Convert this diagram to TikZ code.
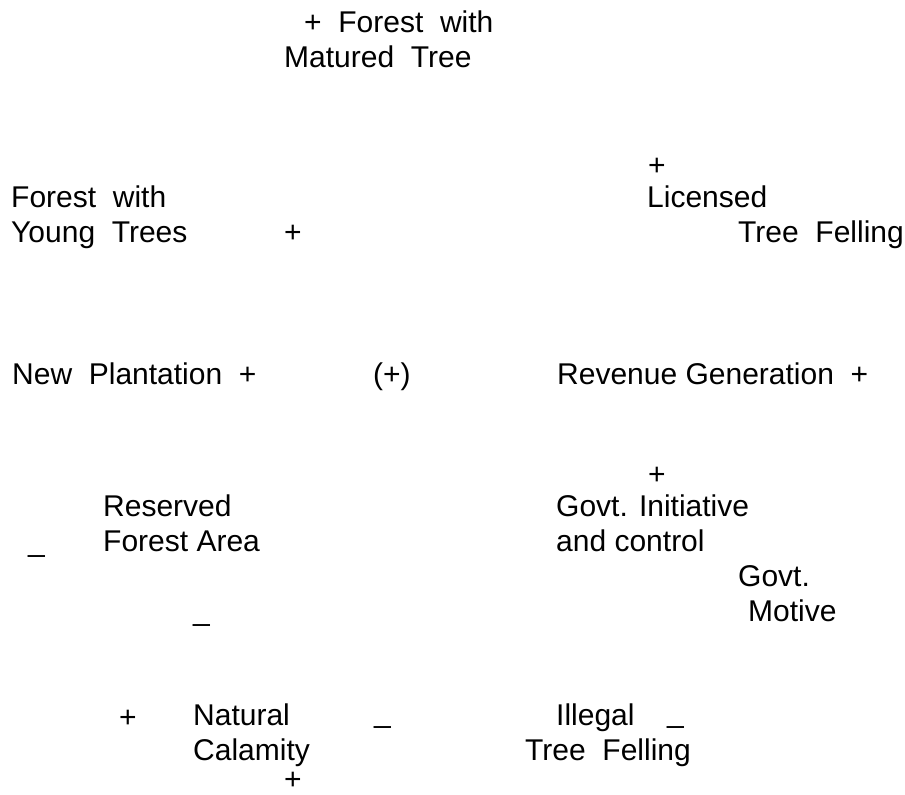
\documentclass[tikz,border=0pt]{standalone}
\usepackage{fontspec}
\setmainfont{Liberation Sans}
\begin{document}
\begin{tikzpicture}[x=1pt,y=-1pt,
  lbl/.style={anchor=base west,inner sep=0pt,font=\fontsize{30}{36}\selectfont},
  sgn/.style={anchor=base west,inner sep=0pt,font=\fontsize{30}{36}\selectfont}]
\useasboundingbox (0,0) rectangle (905,795);
% variables
\node[lbl] (fmt1) at (304,32) {+\ \ Forest\ \ with};
\node[lbl] (fmt2) at (284,67) {Matured\ \ Tree};
\node[sgn] (plic) at (648,175) {+};
\node[lbl] (lic1) at (647,207) {Licensed};
\node[lbl] (lic2) at (738,242) {Tree\ \ Felling};
\node[lbl] (fyt1) at (11,207) {Forest\ \ with};
\node[lbl] (fyt2) at (11,242) {Young\ \ Trees};
\node[sgn] (pfyt) at (284,242) {+};
\node[lbl] (np) at (12,384) {New\ \ Plantation\ \ +};
\node[sgn] (loop) at (373,384) {(+)};
\node[lbl] (rev) at (557,384) {Revenue Generation\ \ +};
\node[sgn] (pgov) at (648,484) {+};
\node[lbl] (rfa1) at (103,516) {Reserved};
\node[lbl] (rfa2) at (103,551) {Forest Area};
\node[sgn] (mrfa) at (28,551) {\textunderscore};
\node[lbl] (gov1) at (556,516) {Govt. Initiative};
\node[lbl] (gov2) at (556,551) {and control};
\node[lbl] (mot1) at (738,586) {Govt.};
\node[lbl] (mot2) at (748,621) {Motive};
\node[sgn] (mnc) at (193,620) {\textunderscore};
\node[sgn] (pnc) at (119,727) {+};
\node[lbl] (nc1) at (193,725) {Natural};
\node[lbl] (nc2) at (193,760) {Calamity};
\node[sgn] (mmid) at (374,722) {\textunderscore};
\node[lbl] (itf1) at (556,725) {Illegal};
\node[sgn] (mitf) at (667,722) {\textunderscore};
\node[lbl] (itf2) at (525,760) {Tree\ \ Felling};
\node[sgn] (pbot) at (284,789) {+};
\end{tikzpicture}
\end{document}
